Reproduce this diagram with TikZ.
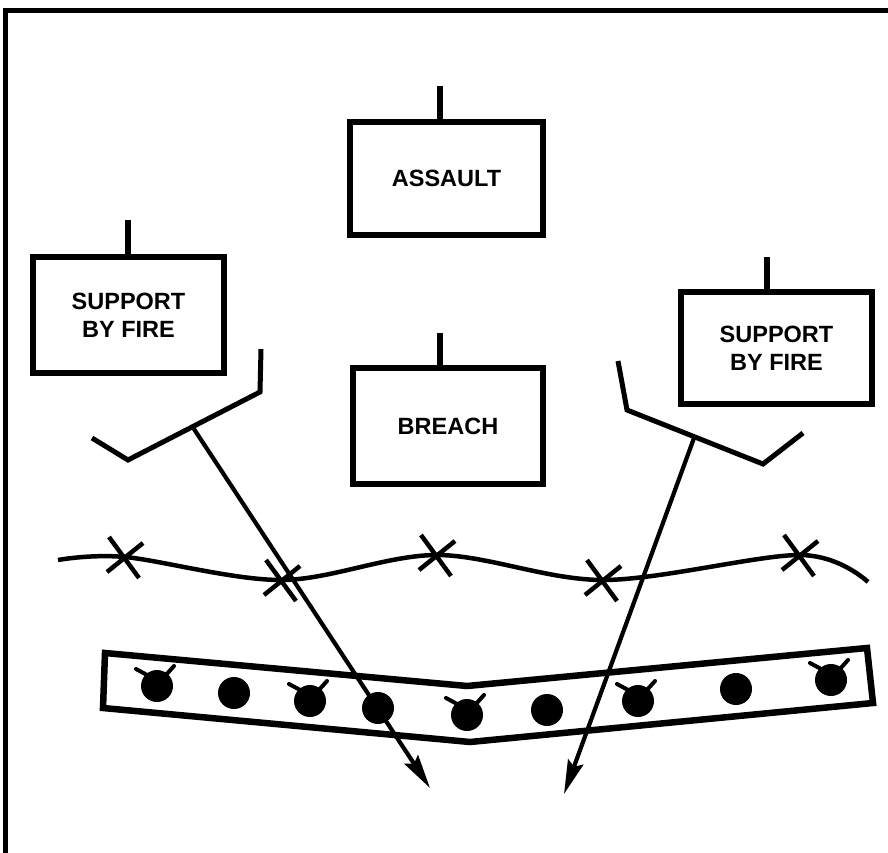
\documentclass[tikz,border=0pt]{standalone}
\usepackage{fontspec}
\setmainfont{Liberation Sans}
\usetikzlibrary{arrows.meta,calc}
\tikzset{
  unitbox/.style={draw, line width=6.5pt, fill=white, align=center,
    font=\fontsize{23.5}{28}\selectfont\bfseries, inner sep=0pt},
  stem/.style={line width=5.5pt},
  fireline/.style={line width=5pt, line join=miter},
  firearrow/.style={line width=4.2pt, -{Stealth[length=34pt,width=16pt,inset=5pt]}},
  wire/.style={line width=4.5pt},
  xmark/.style={line width=4.5pt},
  belt/.style={line width=6.5pt, line join=miter},
  mine/.style={circle, fill=black, minimum size=32pt, inner sep=0pt},
  horn/.style={line width=4pt, line cap=round},
  frame/.style={line width=5pt}
}
\begin{document}
\begin{tikzpicture}[x=1pt,y=-1pt]
\useasboundingbox (0,0) rectangle (888,853);
% frame
\coordinate (fb) at (5,853);
\coordinate (fc) at (5,11);
\coordinate (fr) at (888,11);
\draw[frame] (fb) -- (fc) -- (fr);

% unit boxes
\node[unitbox, minimum width=193pt, minimum height=113pt] (assault) at (446.5,178.5) {ASSAULT};
\node[unitbox, minimum width=191pt, minimum height=116pt] (supL) at (128.5,315) {SUPPORT\\BY FIRE};
\node[unitbox, minimum width=191pt, minimum height=112pt] (supR) at (776.5,348) {SUPPORT\\BY FIRE};
\node[unitbox, minimum width=190pt, minimum height=116pt] (breach) at (448,426) {BREACH};

\coordinate (sa) at (440,86);
\coordinate (sl) at (128,220);
\coordinate (sr) at (767,257);
\coordinate (sb) at (440,333);
\draw[stem] (sa) -- (sa |- assault.north);
\draw[stem] (sl) -- (sl |- supL.north);
\draw[stem] (sr) -- (sr |- supR.north);
\draw[stem] (sb) -- (sb |- breach.north);

% left sector of fire
\coordinate (l1) at (92,438);
\coordinate (l2) at (128,460);
\coordinate (l3) at (260,392);
\coordinate (l4) at (261,349);
\coordinate (lj) at (192,426);
\coordinate (lt) at (430,788);
\draw[fireline] (l1) -- (l2) -- (l3) -- (l4);
\draw[firearrow] (lj) -- (lt);

% right sector of fire
\coordinate (r1) at (618,361);
\coordinate (r2) at (627,410);
\coordinate (r3) at (763,464);
\coordinate (r4) at (803,433);
\coordinate (rj) at (694,438);
\coordinate (rt) at (564,794);
\draw[fireline] (r1) -- (r2) -- (r3) -- (r4);
\draw[firearrow] (rj) -- (rt);

% wire obstacle
\coordinate (w0) at (58,560);
\coordinate (x1) at (125,557);
\coordinate (x2) at (282,580);
\coordinate (x3) at (437,555);
\coordinate (x4) at (603,580);
\coordinate (x5) at (800,555);
\coordinate (w6) at (868,582);
\draw[wire] plot[smooth, tension=0.55] coordinates {(w0) (x1) (x2) (x3) (x4) (x5) (w6)};
\foreach \p in {x1,x2,x3,x4,x5}{
  \draw[xmark] ($(\p)+(-16,-20)$) -- ($(\p)+(14,21)$);
  \draw[xmark] ($(\p)+(18,-14)$) -- ($(\p)+(-18,15)$);
}

% obstacle belt
\coordinate (b1) at (105,653);
\coordinate (b2) at (467,686);
\coordinate (b3) at (867,648);
\coordinate (b4) at (873,703);
\coordinate (b5) at (470,742);
\coordinate (b6) at (103,708);
\draw[belt] (b1) -- (b2) -- (b3) -- (b4) -- (b5) -- (b6) -- cycle;

% mines
\node[mine] (m1) at (157,686) {};
\node[mine] (m2) at (234,693) {};
\node[mine] (m3) at (310,701) {};
\node[mine] (m4) at (378,708) {};
\node[mine] (m5) at (467,715) {};
\node[mine] (m6) at (547,710) {};
\node[mine] (m7) at (638,701) {};
\node[mine] (m8) at (736,689) {};
\node[mine] (m9) at (831,680) {};
\foreach \m in {m1,m3,m5,m7,m9}{
  \draw[horn] ($(\m)+(-8,-10)$) -- ($(\m)+(-21,-17)$);
  \draw[horn] ($(\m)+(8,-10)$) -- ($(\m)+(17,-20)$);
}
\end{tikzpicture}
\end{document}
